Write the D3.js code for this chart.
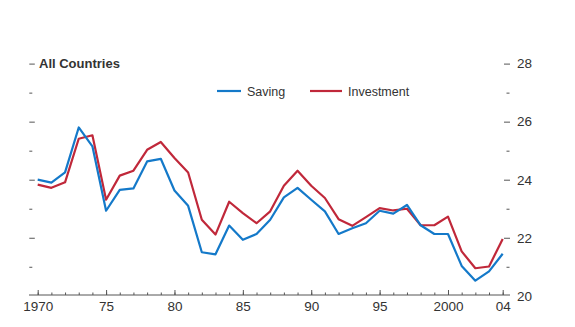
<!DOCTYPE html>
<html>
<head>
<meta charset="utf-8">
<script src="https://cdn.jsdelivr.net/npm/d3@7"></script>
<style>
  body { margin: 0; background: #fff; }
  svg text { font-family: "Liberation Sans", Arial, sans-serif; fill: #333; }
</style>
</head>
<body>
<svg width="575" height="327"></svg>
<script>
// saving and investment, percent of GDP, all countries
var years = d3.range(1970, 2005);
var saving = [24.0, 23.9, 24.25, 25.8, 25.15, 22.93, 23.65, 23.7, 24.63, 24.72,
              23.63, 23.1, 21.5, 21.43, 22.42, 21.93, 22.13, 22.62, 23.39, 23.72,
              23.31, 22.91, 22.13, 22.33, 22.5, 22.93, 22.83, 23.13, 22.43, 22.13,
              22.13, 21.03, 20.52, 20.84, 21.45];
var investment = [23.83, 23.72, 23.91, 25.41, 25.53, 23.31, 24.14, 24.31, 25.03, 25.3,
                  24.75, 24.25, 22.62, 22.11, 23.24, 22.85, 22.5, 22.91, 23.79, 24.31,
                  23.79, 23.37, 22.64, 22.41, 22.71, 23.02, 22.94, 23.0, 22.43, 22.43,
                  22.73, 21.53, 20.95, 21.01, 21.96];
var xTicks = [1970, 1975, 1980, 1985, 1990, 1995, 2000, 2004];
var xLabels = ["1970", "75", "80", "85", "90", "95", "2000", "04"];
var yMajor = [22, 24, 26, 28];
var yMinor = [21, 23, 25, 27];
var series = [
  {name: "Saving", values: saving, color: "#1479c9"},
  {name: "Investment", values: investment, color: "#c0283a"}
];

var svg = d3.select("svg");
var x = d3.scaleLinear().domain([1970, 2004]).range([37.7, 502.7]);
var y = d3.scaleLinear().domain([20, 28]).range([295.8, 63.6]);

// bottom axis
var gx = svg.append("g").attr("transform", "translate(0,295)");
gx.append("line").attr("x1", 29).attr("x2", 510).attr("stroke", "#555");
gx.append("g")
  .call(d3.axisBottom(x).tickValues(years).tickSize(-2.5).tickFormat(""))
  .call(g => g.select(".domain").remove());
gx.append("g")
  .call(d3.axisBottom(x).tickValues(xTicks).tickSize(-5).tickPadding(6.5)
        .tickFormat((d, i) => xLabels[i]))
  .call(g => g.select(".domain").remove());
gx.selectAll("line").attr("stroke", "#555");
gx.selectAll("text").style("font-size", "13.5px").attr("fill", "#333");

// right axis
var gr = svg.append("g").attr("transform", "translate(504,0)");
gr.append("g")
  .call(d3.axisRight(y).tickValues(yMajor).tickSize(6).tickPadding(7).tickFormat(d3.format("d")))
  .call(g => g.select(".domain").remove());
gr.append("g").attr("transform", "translate(2.5,0)")
  .call(d3.axisRight(y).tickValues(yMinor).tickSize(3).tickFormat(""))
  .call(g => g.select(".domain").remove());
gr.append("text").attr("x", 13).attr("y", y(20)).attr("dy", "0.36em").text("20");
gr.selectAll("line").attr("stroke", "#555");
gr.selectAll("text").style("font-size", "13.5px").attr("fill", "#333");

// left ticks
var gl = svg.append("g").attr("transform", "translate(29.3,0)");
gl.append("g")
  .call(d3.axisRight(y).tickValues(yMajor).tickSize(5.5).tickFormat(""))
  .call(g => g.select(".domain").remove());
gl.append("g")
  .call(d3.axisRight(y).tickValues(yMinor).tickSize(3).tickFormat(""))
  .call(g => g.select(".domain").remove());
gl.selectAll("line").attr("stroke", "#555");

svg.append("text")
  .attr("x", 39).attr("y", y(28)).attr("dy", "0.36em")
  .style("font-size", "13px").style("font-weight", "bold").attr("fill", "#222")
  .text("All Countries");

// lines
var line = d3.line().x((d, i) => x(years[i])).y(d => y(d));
svg.selectAll("path.series")
  .data(series.slice().reverse())
  .enter()
  .append("path")
  .attr("class", "series")
  .attr("fill", "none")
  .attr("stroke", d => d.color)
  .attr("stroke-width", 2.2)
  .attr("stroke-linejoin", "round")
  .attr("d", d => line(d.values));

// legend
var legendX = [217, 310];
var legendW = [24, 32];
var lg = svg.selectAll("g.legend")
  .data(series)
  .enter()
  .append("g")
  .attr("class", "legend")
  .attr("transform", (d, i) => "translate(" + legendX[i] + ",91)");
lg.append("line")
  .attr("x2", (d, i) => legendW[i])
  .attr("stroke", d => d.color)
  .attr("stroke-width", 2.2);
lg.append("text")
  .attr("x", (d, i) => legendW[i] + 6)
  .attr("dy", "0.36em")
  .style("font-size", "12.5px")
  .text(d => d.name);
</script>
</body>
</html>
